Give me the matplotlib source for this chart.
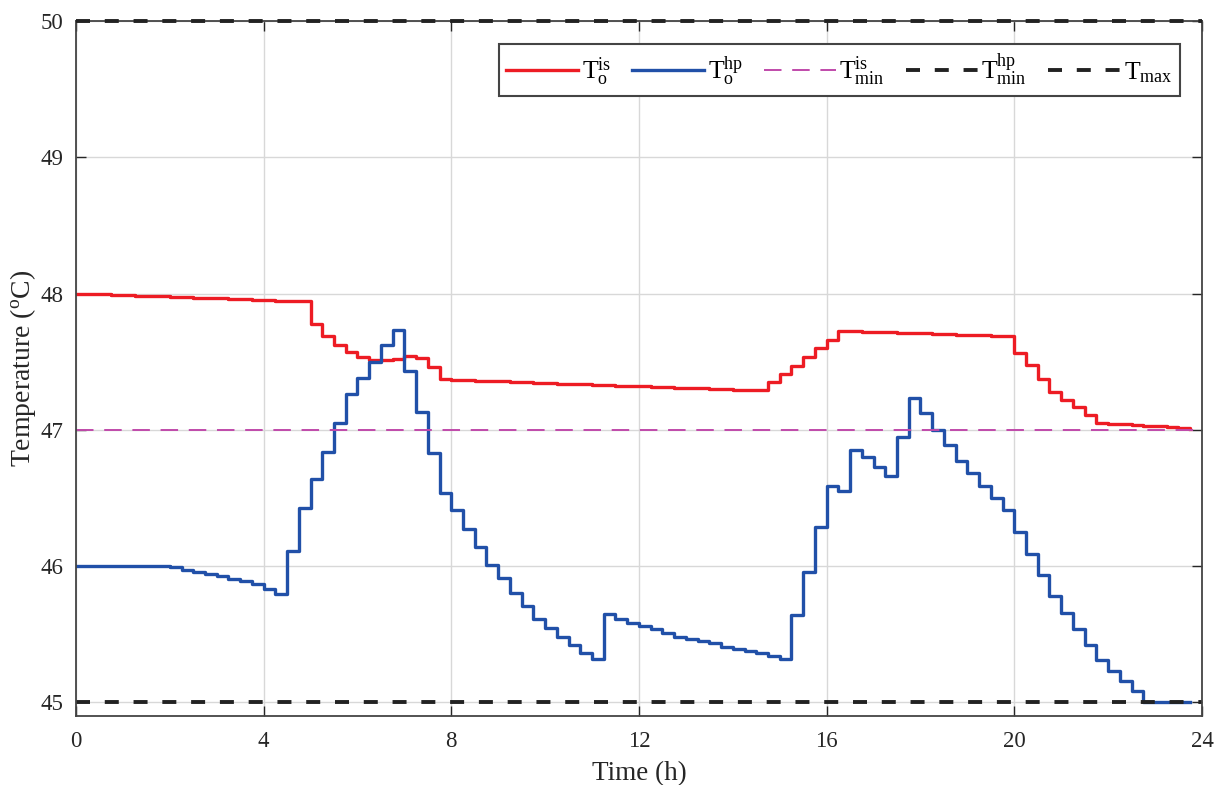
import numpy as np
import matplotlib
matplotlib.use('Agg')
import matplotlib.pyplot as plt

plt.rcParams['font.family'] = ['Liberation Serif', 'DejaVu Serif']
plt.rcParams['mathtext.fontset'] = 'custom'
plt.rcParams['mathtext.rm'] = 'Liberation Serif'
plt.rcParams['mathtext.it'] = 'Liberation Serif:italic'

# time stamps, 15 min steps over the day
t = np.arange(96) * 0.25

# storage outlet temperature (red)
T_is = [48.000, 47.997, 47.994, 47.991, 47.988, 47.985, 47.982, 47.979, 47.976, 47.973,
        47.970, 47.967, 47.964, 47.961, 47.958, 47.955, 47.952, 47.949, 47.946, 47.943,
        47.78, 47.685, 47.62, 47.57, 47.535, 47.515, 47.51, 47.52, 47.545, 47.53, 47.46,
        47.370, 47.367, 47.364, 47.361, 47.358, 47.355, 47.352, 47.349, 47.346, 47.343,
        47.340, 47.337, 47.334, 47.331, 47.328, 47.325, 47.322, 47.319, 47.316, 47.313,
        47.310, 47.307, 47.304, 47.301, 47.298, 47.295, 47.292, 47.289,
        47.35, 47.41, 47.47, 47.535, 47.60, 47.66,
        47.725, 47.722, 47.720, 47.717, 47.715, 47.712, 47.709, 47.707, 47.704, 47.701,
        47.699, 47.696, 47.693, 47.691, 47.688,
        47.565, 47.475, 47.37, 47.275, 47.22, 47.17, 47.11, 47.05,
        47.045, 47.04, 47.035, 47.03, 47.025, 47.02, 47.01, 47.005]

# heat pump outlet temperature (blue)
T_hp = [46.0, 46.0, 46.0, 46.0, 46.0, 46.0, 46.0, 46.0,
        45.99, 45.975, 45.96, 45.945, 45.927, 45.908, 45.89, 45.87, 45.835, 45.795,
        46.11, 46.43, 46.64, 46.84, 47.05, 47.26, 47.38, 47.50, 47.62, 47.73,
        47.43, 47.13, 46.83, 46.54, 46.41, 46.275, 46.14, 46.005, 45.91, 45.805,
        45.71, 45.61, 45.545, 45.48, 45.42, 45.36, 45.32,
        45.65, 45.615, 45.58, 45.56, 45.54, 45.51, 45.48, 45.465, 45.45, 45.435,
        45.41, 45.395, 45.38, 45.36, 45.34, 45.32,
        45.64, 45.96, 46.29, 46.59, 46.55, 46.85, 46.80, 46.73, 46.66, 46.95,
        47.23, 47.12, 47.00, 46.89, 46.77, 46.68, 46.59,
        46.50, 46.415, 46.25, 46.09, 45.935, 45.78, 45.655, 45.54, 45.42, 45.31,
        45.23, 45.16, 45.08,
        45.0, 45.0, 45.0, 45.0, 45.0]

T_min_is = 47
T_min_hp = 45
T_max = 50

fig = plt.figure(figsize=(12.21, 7.85), dpi=100)
ax = fig.add_axes([0.0622, 0.0879, 0.9222, 0.8853])

ax.step(t, T_is, where='post', color='#ED1C24', lw=2.4,
        label=r'$\mathrm{T}_\mathrm{o}^\mathrm{is}$')
ax.step(t, T_hp, where='post', color='#2150A8', lw=2.4,
        label=r'$\mathrm{T}_\mathrm{o}^\mathrm{hp}$')
ax.axhline(T_min_is, color='#C04AAA', lw=1.4, dashes=(9, 5.5),
           label=r'$\mathrm{T}_\mathrm{min}^\mathrm{is}$')
ax.axhline(T_min_hp, color='#222222', lw=2.8, dashes=(3.6, 3.8),
           label=r'$\mathrm{T}_\mathrm{min}^\mathrm{hp}$')
ax.axhline(T_max, color='#222222', lw=2.8, dashes=(3.6, 3.8), clip_on=False,
           zorder=5, label=r'$\mathrm{T}_\mathrm{max}$')

ax.set_xlim(0, 24)
ax.set_ylim(44.9, 50)
ax.set_xticks(np.arange(0, 25, 4))
ax.set_yticks(np.arange(45, 51, 1))
ax.grid(True, color='#d8d8d8', lw=1.0)
ax.set_axisbelow(True)
ax.tick_params(direction='in', top=True, right=True, labelsize=16.5,
               colors='#262626', length=7, width=1.0, pad=9)
ax.tick_params(axis='x', pad=11)
for s in ax.spines.values():
    s.set_color('#444444')
    s.set_linewidth(1.3)

ax.set_xlabel('Time (h)', fontsize=19.5, color='#262626', labelpad=6)
ax.set_ylabel(r'Temperature ($^{\mathrm{o}}$C)', fontsize=20, color='#262626', labelpad=2)

leg = ax.legend(ncol=5, loc='upper right', bbox_to_anchor=(0.9805, 0.967),
                borderaxespad=0, fontsize=18.5, handlelength=2.8, handletextpad=0.15,
                columnspacing=0.8, fancybox=False, framealpha=1, borderpad=0.3)
leg.get_frame().set_edgecolor('#444444')
leg.get_frame().set_linewidth(1.5)

fig.savefig('out.png', dpi=100)
